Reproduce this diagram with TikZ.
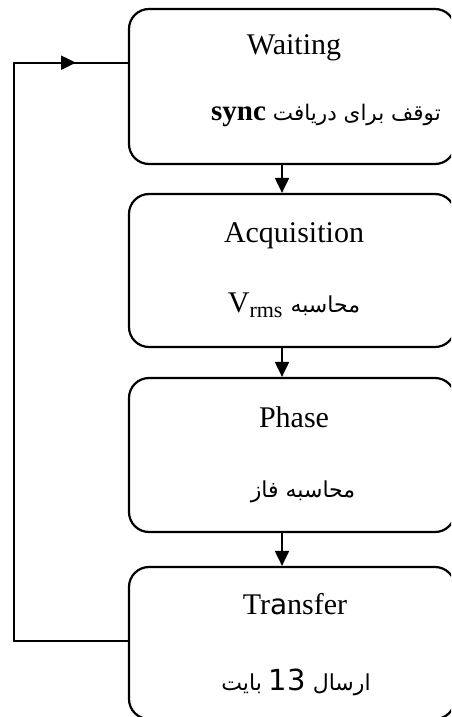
\documentclass[tikz,border=0pt]{standalone}
\usepackage{fontspec}
\setmainfont{Liberation Serif}
\newfontfamily\arabicfont[Script=Arabic]{DejaVu Sans}
\newfontfamily\sansfnt{DejaVu Sans}
\TeXXeTstate=1
\usetikzlibrary{arrows.meta}
\tikzset{
  statebox/.style={draw, line width=2.2pt, rounded corners=20pt, rectangle,
    minimum width=326pt, inner sep=0pt},
  title/.style={anchor=base, inner sep=0pt, font=\fontsize{30}{30}\selectfont},
  fatext/.style={anchor=base, inner sep=0pt, font=\fontsize{22}{22}\arabicfont},
  flow/.style={line width=2pt},
  arr/.style={line width=2pt, -{Triangle[length=15pt,width=14pt]}}
}
\begin{document}
\begin{tikzpicture}[x=1pt,y=-1pt]
\useasboundingbox (0,0) rectangle (451,717);
\clip (0,0) rectangle (451,717);
\node[statebox, minimum height=155pt] (b1) at (292,86.5) {};
\node[statebox, minimum height=153pt] (b2) at (292,270.5) {};
\node[statebox, minimum height=154pt] (b3) at (292,455) {};
\node[statebox, minimum height=152pt] (b4) at (292,643) {};

\node[title] (t1) at (294,55) {Waiting};
\node[anchor=base, inner sep=0pt] (s1) at (326,120) {{\fontsize{29}{29}\selectfont\bfseries sync}\hspace{7pt}{\fontsize{21.5}{22}\arabicfont\beginR توقف برای دریافت\endR}};
\node[title] (t2) at (294,242) {Acquisition};
\node[anchor=base, inner sep=0pt] (s2) at (294,312) {{\fontsize{30}{30}\selectfont V\raisebox{-5pt}{\fontsize{22}{22}\selectfont rms}}\hspace{8pt}{\fontsize{22}{22}\arabicfont\beginR محاسبه\endR}};
\node[title] (t3) at (294,427) {Phase};
\node[fatext] (s3) at (303,497) {\beginR محاسبه فاز\endR};
\node[title] (t4) at (295,614) {Tr{\sansfnt\fontsize{28}{28}\selectfont a}nsfer};
\node[fatext] (s4) at (296,690) {\beginR ارسال \beginL{\sansfnt\fontsize{29}{29}\selectfont 13}\endL{} بایت\endR};

\coordinate (ax) at (282,0);
\draw[arr] (b1.south -| ax) -- (b2.north -| ax);
\draw[arr] (b2.south -| ax) -- (b3.north -| ax);
\draw[arr] (b3.south -| ax) -- (b4.north -| ax);

\coordinate (lb) at (14,641);
\coordinate (lt) at (14,62.7);
\coordinate (mt) at (76,62.7);
\draw[flow] (b4.west |- lb) -- (lb) -- (lt) -- (b1.west |- lt);
\draw[arr] (lt) -- (mt);
\end{tikzpicture}
\end{document}
